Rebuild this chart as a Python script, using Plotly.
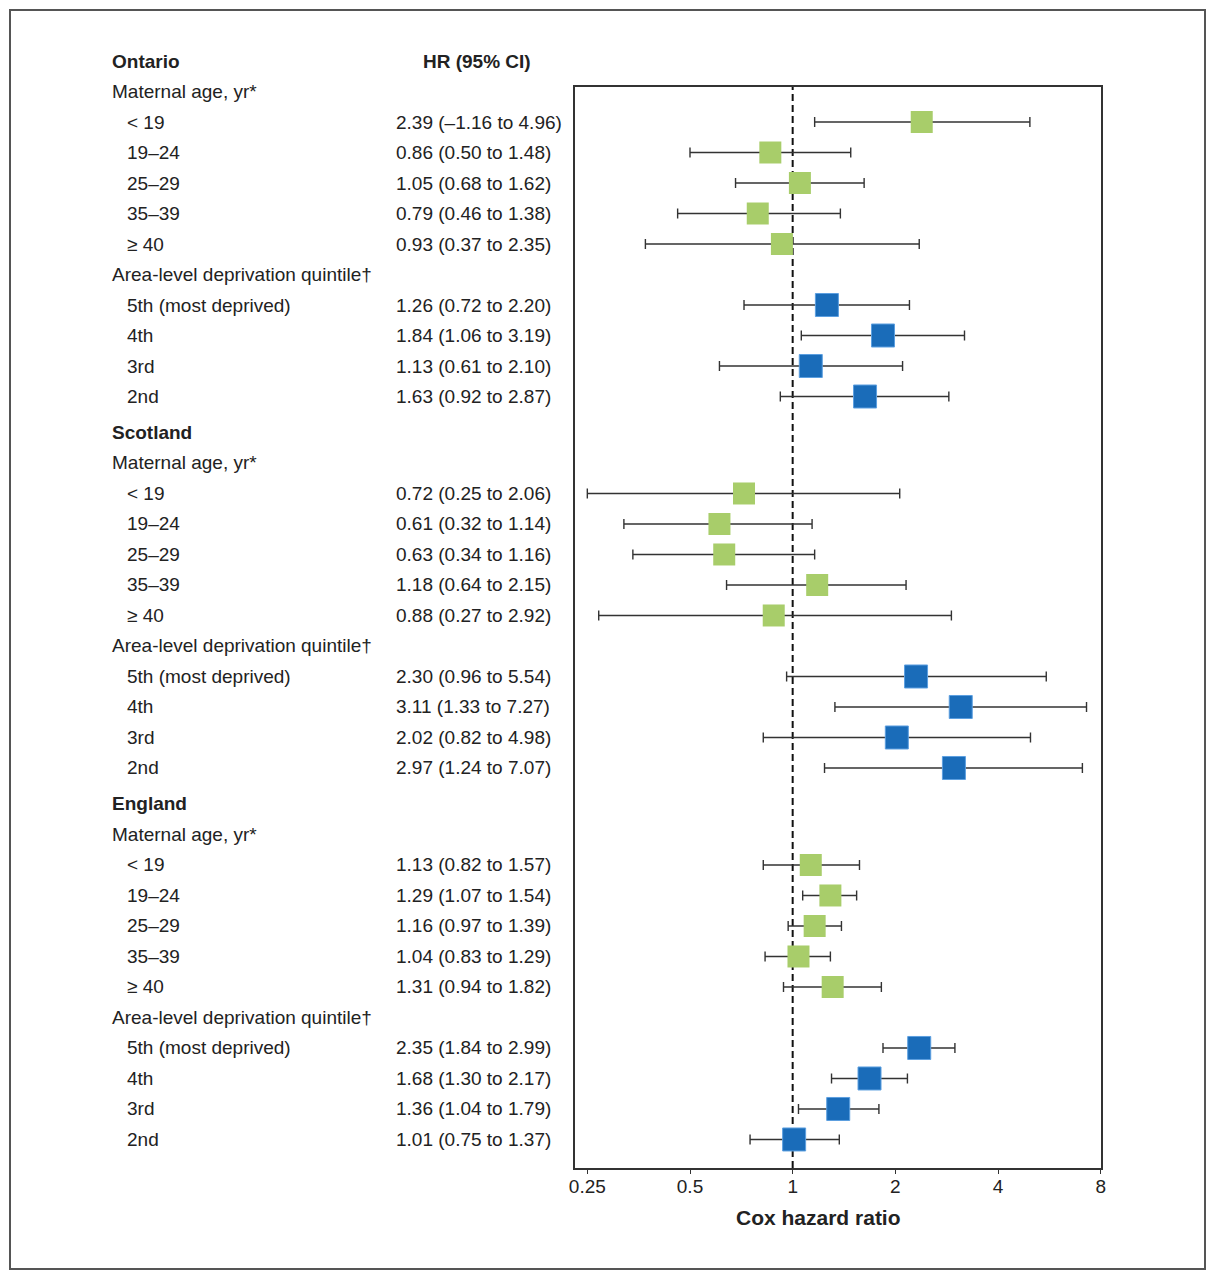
import math
import plotly.graph_objects as go

# ---------------- data ----------------
countries = ["Ontario", "Scotland", "England"]
age_header = "Maternal age, yr*"
quintile_header = "Area-level deprivation quintile†"
age_groups = ["< 19", "19–24", "25–29", "35–39", "≥ 40"]
quintiles = ["5th (most deprived)", "4th", "3rd", "2nd"]

ontario_age_hr = [2.39, 0.86, 1.05, 0.79, 0.93]
ontario_age_lo = [1.16, 0.50, 0.68, 0.46, 0.37]
ontario_age_hi = [4.96, 1.48, 1.62, 1.38, 2.35]
ontario_q_hr = [1.26, 1.84, 1.13, 1.63]
ontario_q_lo = [0.72, 1.06, 0.61, 0.92]
ontario_q_hi = [2.20, 3.19, 2.10, 2.87]

scotland_age_hr = [0.72, 0.61, 0.63, 1.18, 0.88]
scotland_age_lo = [0.25, 0.32, 0.34, 0.64, 0.27]
scotland_age_hi = [2.06, 1.14, 1.16, 2.15, 2.92]
scotland_q_hr = [2.30, 3.11, 2.02, 2.97]
scotland_q_lo = [0.96, 1.33, 0.82, 1.24]
scotland_q_hi = [5.54, 7.27, 4.98, 7.07]

england_age_hr = [1.13, 1.29, 1.16, 1.04, 1.31]
england_age_lo = [0.82, 1.07, 0.97, 0.83, 0.94]
england_age_hi = [1.57, 1.54, 1.39, 1.29, 1.82]
england_q_hr = [2.35, 1.68, 1.36, 1.01]
england_q_lo = [1.84, 1.30, 1.04, 0.75]
england_q_hi = [2.99, 2.17, 1.79, 1.37]

# printed lower bound as it appears in the source table (Ontario, < 19)
ontario_age_lo_printed = ["–1.16", None, None, None, None]

x_tickvals = [0.25, 0.5, 1, 2, 4, 8]
x_ticktext = ["0.25", "0.5", "1", "2", "4", "8"]
x_title = "Cox hazard ratio"
hr_header = "HR (95% CI)"

# ---------------- assembly ----------------
blocks = [
    (ontario_age_hr, ontario_age_lo, ontario_age_hi, ontario_q_hr, ontario_q_lo, ontario_q_hi, ontario_age_lo_printed),
    (scotland_age_hr, scotland_age_lo, scotland_age_hi, scotland_q_hr, scotland_q_lo, scotland_q_hi, None),
    (england_age_hr, england_age_lo, england_age_hi, england_q_hr, england_q_lo, england_q_hi, None),
]

GAP = 0.18          # extra spacing between country blocks (row units)
ROWS_PER_BLOCK = 12

FONT = "Liberation Sans, Arial, Helvetica, sans-serif"
TXT = "#222222"
FS = 19

W, H = 1216, 1280
L, R, T, B = 575, 115, 87, 112
PW, PH = W - L - R, H - T - B

row_px = 30.5
y_top = (T - 61) / row_px
y_bot = (H - B - 61) / row_px


def px_x(px):
    return (px - L) / PW


def px_y(py):
    return (H - B - py) / PH


def row_to_paper(r):
    return (y_bot - r) / (y_bot - y_top)


green = dict(y=[], x=[], plus=[], minus=[])
blue = dict(y=[], x=[], plus=[], minus=[])
annotations = []


def label(text, xpx, yrow, bold=False, anchor="left"):
    annotations.append(dict(
        text=f"<b>{text}</b>" if bold else text,
        x=px_x(xpx), xref="paper", y=row_to_paper(yrow), yref="paper",
        xanchor=anchor, yanchor="middle", showarrow=False,
        font=dict(family=FONT, size=FS, color=TXT),
    ))


def fmt(v):
    return f"{v:.2f}"


for b, (ahr, alo, ahi, qhr, qlo, qhi, alo_txt) in enumerate(blocks):
    base = b * (ROWS_PER_BLOCK + GAP)
    label(countries[b], 110, base, bold=True)
    if b == 0:
        label(hr_header, 477, base, bold=True, anchor="center")
    label(age_header, 110, base + 1)
    for i, name in enumerate(age_groups):
        y = base + 2 + i
        label(name, 125, y)
        lo_txt = fmt(alo[i])
        if alo_txt is not None and alo_txt[i] is not None:
            lo_txt = alo_txt[i]
        label(f"{fmt(ahr[i])} ({lo_txt} to {fmt(ahi[i])})", 394, y)
        green["y"].append(y)
        green["x"].append(ahr[i])
        green["plus"].append(ahi[i] - ahr[i])
        green["minus"].append(ahr[i] - alo[i])
    label(quintile_header, 110, base + 7)
    for i, name in enumerate(quintiles):
        y = base + 8 + i
        label(name, 125, y)
        label(f"{fmt(qhr[i])} ({fmt(qlo[i])} to {fmt(qhi[i])})", 394, y)
        blue["y"].append(y)
        blue["x"].append(qhr[i])
        blue["plus"].append(qhi[i] - qhr[i])
        blue["minus"].append(qhr[i] - qlo[i])

fig = go.Figure()
err_style = dict(type="data", symmetric=False, color="#333333", thickness=1.4, width=5)

fig.add_trace(go.Scatter(
    x=green["x"], y=green["y"], mode="markers",
    marker=dict(symbol="square", size=22, color="#a8cd6a", line=dict(width=0)),
    error_x=dict(array=green["plus"], arrayminus=green["minus"], **err_style),
    showlegend=False, cliponaxis=False,
))
fig.add_trace(go.Scatter(
    x=blue["x"], y=blue["y"], mode="markers",
    marker=dict(symbol="square", size=23, color="#1a6cb9", line=dict(width=1, color="#5c9fe0")),
    error_x=dict(array=blue["plus"], arrayminus=blue["minus"], **err_style),
    showlegend=False, cliponaxis=False,
))

# axis ranges (log x, row-index y)
LOG2 = math.log10(2)
x_lo = -2.120 * LOG2
x_hi = 3.003 * LOG2

shapes = [
    dict(type="line", xref="x", yref="paper", x0=1, x1=1, y0=0, y1=1,
         line=dict(color="#111111", width=2, dash="7px,4px"), layer="below"),
    dict(type="rect", xref="paper", yref="paper",
         x0=px_x(10), x1=px_x(1205), y0=px_y(1269), y1=px_y(10),
         line=dict(color="#555555", width=2)),
]

annotations.append(dict(
    text=f"<b>{x_title}</b>", x=px_x(818), xref="paper", y=px_y(1217), yref="paper",
    xanchor="center", yanchor="middle", showarrow=False,
    font=dict(family=FONT, size=21, color=TXT),
))

fig.update_layout(
    width=W, height=H,
    margin=dict(l=L, r=R, t=T, b=B, pad=0),
    paper_bgcolor="white", plot_bgcolor="white",
    font=dict(family=FONT, size=FS, color=TXT),
    shapes=shapes, annotations=annotations,
    xaxis=dict(type="log", range=[x_lo, x_hi], tickvals=x_tickvals, ticktext=x_ticktext,
               showgrid=False, zeroline=False, showline=True, mirror=True,
               linecolor="#333333", linewidth=1.5, ticks="outside", ticklen=4,
               tickcolor="#333333", tickwidth=1.2, ticklabelstandoff=-4,
               tickfont=dict(family=FONT, size=19, color=TXT)),
    yaxis=dict(range=[y_bot, y_top], showgrid=False, zeroline=False, showticklabels=False,
               showline=True, mirror=True, linecolor="#333333", linewidth=1.5, ticks=""),
)

fig.write_html("out.html", config={"displayModeBar": False},
               post_script="document.body.style.margin='0';")
